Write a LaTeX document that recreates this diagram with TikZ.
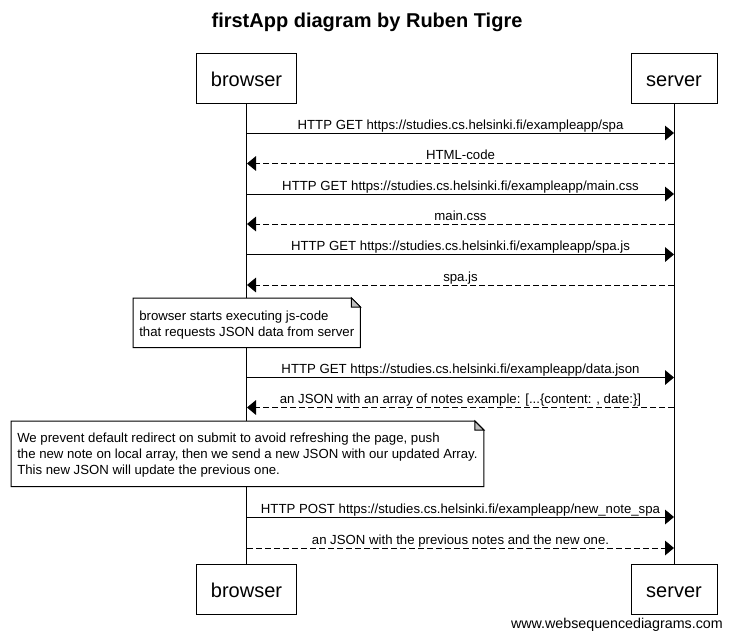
\documentclass[tikz,border=0pt]{standalone}
\usepackage{fontspec}
\setmainfont{Liberation Sans}
\usetikzlibrary{arrows.meta,calc}
\begin{document}
\begin{tikzpicture}[x=0.75pt,y=-0.75pt,
  actor/.style={draw,line width=0.75pt,minimum height=37.5pt,inner sep=0pt,
    text height=12pt,text depth=0pt,font=\fontsize{15}{18}\selectfont},
  msg/.style={line width=0.75pt,-{Triangle[length=6.75pt,width=11pt]}},
  reply/.style={msg,dash pattern=on 4.5pt off 2.25pt},
  lbl/.style={font=\fontsize{9.9}{12}\selectfont,inner sep=0pt,anchor=base,yshift=3pt},
  notebox/.style={anchor=north west,align=left,inner xsep=4.5pt,inner ysep=0pt,
    fill=white,font=\fontsize{9.9}{12}\selectfont},
  life/.style={line width=0.75pt},
  fold/.style={line width=0.75pt,fill=black!25}
]
\useasboundingbox (0,0) rectangle (732,643);

% title
\node[font=\bfseries\fontsize{15}{18}\selectfont,inner sep=0pt] (title) at (367,22) {firstApp diagram by Ruben Tigre};

% participants
\node[actor,minimum width=75pt] (bt) at (246.5,78.5) {browser};
\node[actor,minimum width=64.5pt] (st) at (674,78.5) {server};
\node[actor,minimum width=75pt] (bb) at (246.5,589.5) {browser};
\node[actor,minimum width=64.5pt] (sb) at (674,589.5) {server};

% lifelines
\draw[life] (bt.south) -- (bb.north);
\draw[life] (st.south) -- (sb.north);

% anchor points on lifelines
\foreach \n/\y in {1/133,2/163.5,3/194,4/224,5/254.5,6/285,7/377.5,8/407.5,9/517,10/548}{
  \coordinate (b\n) at (247,\y);
  \coordinate (s\n) at (674,\y);
}

% messages
\draw[msg] (b1) -- (s1) node[lbl,midway] {HTTP GET https://studies.cs.helsinki.fi/exampleapp/spa};
\draw[reply] (s2) -- (b2) node[lbl,midway] {HTML-code};
\draw[msg] (b3) -- (s3) node[lbl,midway] {HTTP GET https://studies.cs.helsinki.fi/exampleapp/main.css};
\draw[reply] (s4) -- (b4) node[lbl,midway] {main.css};
\draw[msg] (b5) -- (s5) node[lbl,midway] {HTTP GET https://studies.cs.helsinki.fi/exampleapp/spa.js};
\draw[reply] (s6) -- (b6) node[lbl,midway] {spa.js};

% note 1
\node[notebox,minimum width=168.75pt] (note1) at (133,298)
  {\rule{0pt}{16.5pt}browser starts executing js-code\\that requests JSON data from server\rule[-8.25pt]{0pt}{8.25pt}};
\draw[line width=0.75pt] (note1.north west) -- ([xshift=-6.75pt]note1.north east)
  -- ([yshift=-6.75pt]note1.north east) -- (note1.south east) -- (note1.south west) -- cycle;
\draw[fold] ([xshift=-6.75pt]note1.north east) -- ([xshift=-6.75pt,yshift=-6.75pt]note1.north east)
  -- ([yshift=-6.75pt]note1.north east) -- cycle;

\draw[msg] (b7) -- (s7) node[lbl,midway] {HTTP GET https://studies.cs.helsinki.fi/exampleapp/data.json};
\draw[reply] (s8) -- (b8) node[lbl,midway] {an JSON with an array of notes example: [...\{content: , date:\}]};

% note 2
\node[notebox,minimum width=352.5pt] (note2) at (11,421)
  {\rule{0pt}{15.75pt}We prevent default redirect on submit to avoid refreshing the page, push\\the new note on local array, then we send a new JSON with our updated Array.\\This new JSON will update the previous one.\rule[-9pt]{0pt}{9pt}};
\draw[line width=0.75pt] (note2.north west) -- ([xshift=-6.75pt]note2.north east)
  -- ([yshift=-6.75pt]note2.north east) -- (note2.south east) -- (note2.south west) -- cycle;
\draw[fold] ([xshift=-6.75pt]note2.north east) -- ([xshift=-6.75pt,yshift=-6.75pt]note2.north east)
  -- ([yshift=-6.75pt]note2.north east) -- cycle;

\draw[msg] (b9) -- (s9) node[lbl,midway] {HTTP POST https://studies.cs.helsinki.fi/exampleapp/new\_note\_spa};
\draw[reply] (b10) -- (s10) node[lbl,midway] {an JSON with the previous notes and the new one.};

% footer
\node[font=\fontsize{10.7}{13}\selectfont,anchor=base east,inner sep=0pt] (footer) at (723,628) {www.websequencediagrams.com};
\end{tikzpicture}
\end{document}
